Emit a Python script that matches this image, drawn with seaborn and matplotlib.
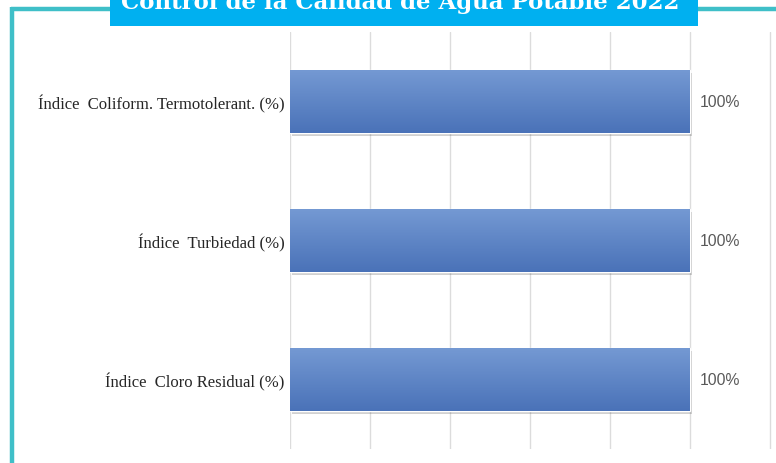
import matplotlib
matplotlib.use("Agg")
import matplotlib.pyplot as plt
import matplotlib.patheffects as pe
from matplotlib.patches import Rectangle
from matplotlib.lines import Line2D
from matplotlib.colors import LinearSegmentedColormap
import numpy as np
import pandas as pd
import seaborn as sns

# ---- data ----
categories = ["Índice  Coliform. Termotolerant. (%)",
              "Índice  Turbiedad (%)",
              "Índice  Cloro Residual (%)"]
values = [1.0, 1.0, 1.0]
value_labels = ["100%", "100%", "100%"]
title = "Control de la Calidad de Agua Potable 2022"

df = pd.DataFrame({"cat": categories, "val": values})

sns.set_style("white")
W, H = 776, 464
fig = plt.figure(figsize=(W / 100, H / 100), dpi=100)

ax_left, ax_right = 290, 778
ax_top, ax_bottom = 33, 450
ax = fig.add_axes([ax_left / W, 1 - ax_bottom / H,
                   (ax_right - ax_left) / W, (ax_bottom - ax_top) / H])

sns.barplot(data=df, x="val", y="cat", orient="h", order=categories,
            color="#5b82c6", width=0.45, ax=ax, saturation=1)

ax.set_xticks(np.arange(0, 1.21, 0.2))
ax.xaxis.grid(True, color="#dcdcdc", linewidth=1)
ax.set_axisbelow(True)
ax.tick_params(axis="x", bottom=False, labelbottom=False)
ax.tick_params(axis="y", left=False, pad=0.5)
for s in ax.spines.values():
    s.set_visible(False)
ax.set_xlabel("")
ax.set_ylabel("")
for lab in ax.get_yticklabels():
    lab.set_fontfamily("Liberation Serif")
    lab.set_fontsize(12)
    lab.set_color("#262626")

# gradient fill + soft shadow for bars
grad = np.linspace(0, 1, 256).reshape(-1, 1)
cmap = LinearSegmentedColormap.from_list("g", ["#7499d3", "#4a72b8"])
for p in ax.patches:
    x0, y0 = p.get_x(), p.get_y()
    w, h = p.get_width(), p.get_height()
    p.set_path_effects([pe.SimplePatchShadow(offset=(1.5, -2), alpha=0.22,
                                             shadow_rgbFace="#303030"),
                        pe.Normal()])
    im = ax.imshow(grad, cmap=cmap, aspect="auto",
                   extent=(x0, x0 + w, y0 + h, y0), zorder=p.get_zorder() + 0.1)
    im.set_clip_path(p)

ax.set_xlim(0, 1.22)
ax.set_ylim(2.5, -0.5)

ax.bar_label(ax.containers[0], labels=value_labels, padding=7,
             fontsize=11.3, color="#595959", fontfamily="Liberation Sans")

# frame border
teal = "#3fbfc8"
lw = 3.2
fig.add_artist(Line2D([12 / W, 12 / W], [1 - 8 / H, 0], transform=fig.transFigure,
                      color=teal, linewidth=lw, solid_capstyle="butt"))
fig.add_artist(Line2D([10.5 / W, 1.0], [1 - 9.5 / H, 1 - 9.5 / H], transform=fig.transFigure,
                      color=teal, linewidth=lw, solid_capstyle="butt"))

# title box
fig.add_artist(Rectangle((110 / W, 1 - 27 / H), (698 - 110) / W, 27 / H + 0.01,
                         transform=fig.transFigure, facecolor="#00b0f0",
                         edgecolor="none", zorder=5))
fig.text(400 / W, 1 - 9.5 / H, title, ha="center", va="baseline",
         color="white", fontsize=16.5, fontweight="bold",
         fontfamily="DejaVu Serif", zorder=6)

fig.savefig("out.png", dpi=100)
